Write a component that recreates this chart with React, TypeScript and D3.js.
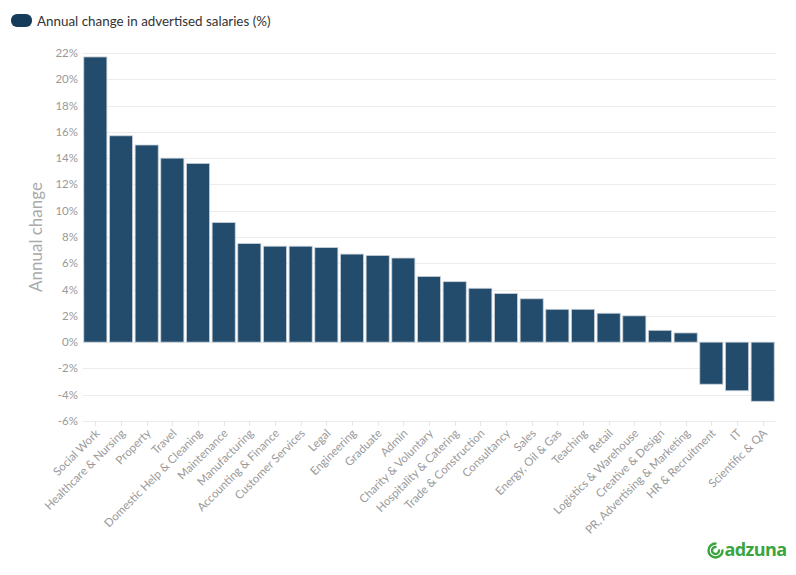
import React from "react";
import * as d3 from "d3";

const categories = [
  "Social Work", "Healthcare & Nursing", "Property", "Travel", "Domestic Help & Cleaning",
  "Maintenance", "Manufacturing", "Accounting & Finance", "Customer Services", "Legal",
  "Engineering", "Graduate", "Admin", "Charity & Voluntary", "Hospitality & Catering",
  "Trade & Construction", "Consultancy", "Sales", "Energy, Oil & Gas", "Teaching",
  "Retail", "Logistics & Warehouse", "Creative & Design", "PR, Advertising & Marketing",
  "HR & Recruitment", "IT", "Scientific & QA",
];
const values = [
  21.7, 15.7, 15.0, 14.0, 13.6,
  9.1, 7.5, 7.3, 7.3, 7.2,
  6.7, 6.6, 6.4, 5.0, 4.6,
  4.1, 3.7, 3.3, 2.5, 2.5,
  2.2, 2.0, 0.9, 0.7,
  -3.2, -3.7, -4.5,
];
const yTicks = [-6, -4, -2, 0, 2, 4, 6, 8, 10, 12, 14, 16, 18, 20, 22];
const seriesName = "Annual change in advertised salaries (%)";
const yTitle = "Annual change";

const W = 796, H = 575;
const M = { left: 82.5, right: 20.5, top: 53, bottom: 154 };
const FONT = "Lato, 'Open Sans', sans-serif";

export default function App() {
  const x = d3.scaleBand<string>().domain(categories).range([M.left, W - M.right]);
  const y = d3.scaleLinear().domain([-6, 22]).range([H - M.bottom, M.top]);
  const step = x.step();
  const bw = step * 0.9;
  const cx = (c: string) => (x(c) as number) + step / 2;

  return (
    <svg width={W} height={H} style={{ position: "absolute", left: 0, top: 0, fontFamily: FONT }}>
      <rect width={W} height={H} fill="#fff" />
      {/* legend */}
      <rect x={11} y={14} width={21} height={13} rx={6} fill="#163c5c" />
      <text x={37} y={25.5} fontSize={13.4} fill="#333">{seriesName}</text>

      {/* gridlines */}
      {yTicks.map((t) => (
        <line key={t} x1={M.left} x2={W - M.right} y1={Math.round(y(t)) + 0.5} y2={Math.round(y(t)) + 0.5} stroke="#ececec" strokeWidth={1} />
      ))}
      {yTicks.map((t) => (
        <text key={"l" + t} x={78} y={y(t) + 4} fontSize={11.5} fill="#999" textAnchor="end">{t}%</text>
      ))}
      <text transform={`translate(42,${(M.top + H - M.bottom) / 2}) rotate(-90)`} fontSize={17} fill="#aaa" textAnchor="middle">{yTitle}</text>

      {/* bars */}
      {categories.map((c, i) => {
        const v = values[i];
        const y0 = y(Math.max(0, v));
        const y1 = y(Math.min(0, v));
        return (
          <rect key={c} x={cx(c) - bw / 2} y={y0} width={bw} height={y1 - y0} fill="#234b6b" stroke="#c9d2da" strokeWidth={0.8} />
        );
      })}

      {/* x axis ticks and labels */}
      {categories.map((c) => (
        <g key={"t" + c}>
          <line x1={Math.round(cx(c)) + 0.5} x2={Math.round(cx(c)) + 0.5} y1={y(-6)} y2={y(-6) + 5} stroke="#e6e6e6" />
          <text transform={`translate(${cx(c) + 5},${y(-6) + 13}) rotate(-45)`} fontSize={11.5} fill="#999" textAnchor="end">{c}</text>
        </g>
      ))}

      {/* logo */}
      <g transform="translate(707,540)">
        <path d="M8.5,3.5 A7,7 0 1 0 15.5,10.5" fill="none" stroke="#3aa53f" strokeWidth={2.4} strokeLinecap="round" />
        <path d="M8.5,7 A3.5,3.5 0 1 0 12,10.5" fill="none" stroke="#3aa53f" strokeWidth={2.4} strokeLinecap="round" />
        <text x={17.5} y={16} fontSize={18} fontWeight="bold" fill="#3aa53f" fontFamily="'Open Sans', sans-serif" letterSpacing={-0.6}>adzuna</text>
      </g>
    </svg>
  );
}
